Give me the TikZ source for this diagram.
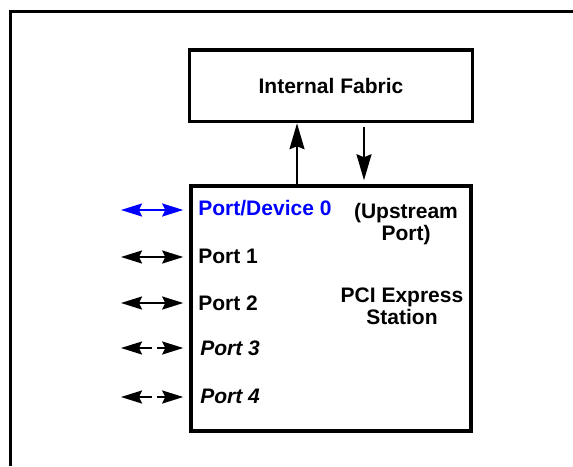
\documentclass[tikz,border=0pt]{standalone}
\usepackage{fontspec}
\setmainfont{Liberation Sans}
\usetikzlibrary{arrows.meta, calc}

\tikzset{
    boxline/.style={draw, line width=1.75pt, inner sep=0pt},
    labeltext/.style={inner sep=0pt, font=\fontsize{10.5}{11}\selectfont\bfseries},
    porttext/.style={labeltext, anchor=base west},
    porttip/.tip={Stealth[length=10.5pt,width=6.5pt,inset=1.5pt]},
    portarrow/.style={line width=1pt, shorten >=3pt, porttip-porttip},
    halfarrow/.style={line width=1pt, -porttip},
    busarrow/.style={line width=1pt, -{Stealth[length=13pt,width=7.5pt,inset=1.5pt]}}
}

\begin{document}
\begin{tikzpicture}[x=0.5pt, y=-0.5pt]
    \useasboundingbox (0,0) rectangle (573,466);

            %%outer frame
            \draw[line width=1.5pt] (10,466) -- (10,11) -- (573,11);

            %%the two boxes
            \node[boxline, minimum width=141.5pt, minimum height=35.75pt, labeltext]
                (fabric) at (331,85.75) {Internal Fabric};
            \node[boxline, minimum width=140pt, minimum height=122.5pt]
                (station) at (331,308.5) {};

            %%texts inside the station
            \node[labeltext, align=center, anchor=north] (upstream) at (406,203) {(Upstream\\Port)};
            \node[labeltext, align=center, anchor=north] (pcie) at (402,287) {PCI Express\\Station};

            %%the ports
            \node[porttext, text=blue] (port0) at (198,215) {Port/Device 0};
            \node[porttext] (port1) at (198,263) {Port 1};
            \node[porttext] (port2) at (198,310) {Port 2};
            \node[porttext, font=\fontsize{10.5}{11}\selectfont\bfseries\itshape] (port3) at (200,355) {Port 3};
            \node[porttext, font=\fontsize{10.5}{11}\selectfont\bfseries\itshape] (port4) at (200,403) {Port 4};

            %%the port arrows
            \coordinate (p0) at (121,210);
            \coordinate (p1) at (121,257);
            \coordinate (p2) at (121,303);
            \coordinate (p3) at (121,348);
            \coordinate (p4) at (121,397);
            \draw[portarrow, blue] (p0) -- (station.west |- p0);
            \draw[portarrow] (p1) -- (station.west |- p1);
            \draw[portarrow] (p2) -- (station.west |- p2);
            \foreach \p in {p3, p4} {
                \coordinate (g\p) at ($(\p)+(31,0)$);
                \coordinate (h\p) at ($(\p)+(36,0)$);
                \draw[halfarrow] (g\p) -- (\p);
                \draw[halfarrow, shorten >=3pt] (h\p) -- (station.west |- h\p);
            }

            %%fabric to station
            \coordinate (up) at (297,0);
            \coordinate (down) at (364,0);
            \draw[busarrow] (station.north -| up) -- (fabric.south -| up);
            \draw[busarrow, shorten <=1.75pt, shorten >=2pt] (fabric.south -| down) -- (station.north -| down);
\end{tikzpicture}
\end{document}
